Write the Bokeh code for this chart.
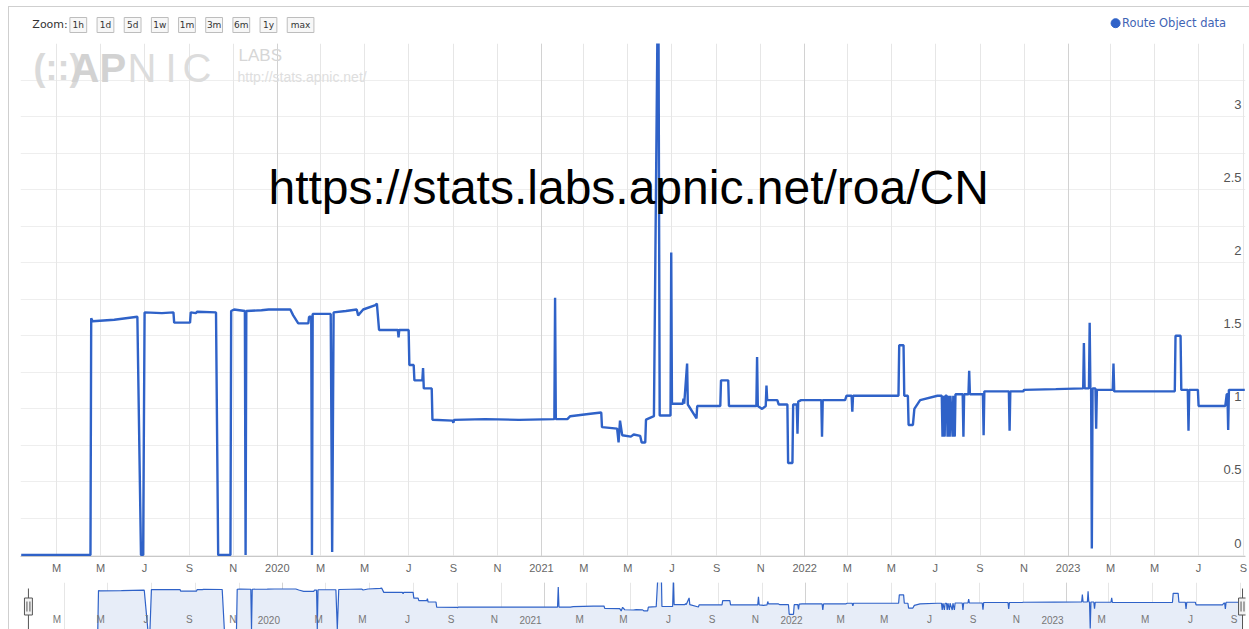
import pandas as pd
from bokeh.plotting import figure
from bokeh.models import Range1d, FixedTicker, Grid, ColumnDataSource
from bokeh.layouts import column
from bokeh.core.properties import value
from bokeh.embed import file_html
from bokeh.resources import INLINE

# ---------------- data ----------------
dates = [
    "2019-01-11", "2019-04-17", "2019-04-18", "2019-04-20", "2019-05-20", "2019-06-21",
    "2019-06-26", "2019-06-29", "2019-07-01", "2019-07-25", "2019-08-10", "2019-08-11",
    "2019-09-02", "2019-09-03", "2019-09-10", "2019-09-12", "2019-10-08", "2019-10-11",
    "2019-10-28", "2019-10-29", "2019-11-02", "2019-11-17", "2019-11-18", "2019-11-19",
    "2019-12-10", "2019-12-20", "2020-01-19", "2020-01-23", "2020-01-30", "2020-02-13",
    "2020-02-14", "2020-02-17", "2020-02-18", "2020-02-19", "2020-03-15", "2020-03-17",
    "2020-03-19", "2020-04-05", "2020-04-20", "2020-04-22", "2020-04-29", "2020-05-16",
    "2020-05-18", "2020-05-21", "2020-06-16", "2020-06-17", "2020-06-18", "2020-07-01",
    "2020-07-02", "2020-07-08", "2020-07-09", "2020-07-20", "2020-07-21", "2020-07-22",
    "2020-08-02", "2020-08-03", "2020-08-31", "2020-09-01", "2020-09-02", "2020-10-15",
    "2020-12-01", "2021-01-19", "2021-01-20", "2021-01-21", "2021-02-06", "2021-02-10",
    "2021-03-10", "2021-03-25", "2021-03-26", "2021-04-16", "2021-04-18", "2021-04-20",
    "2021-04-23", "2021-05-05", "2021-05-09", "2021-05-18", "2021-05-20", "2021-05-25",
    "2021-05-26", "2021-06-06", "2021-06-12", "2021-06-14", "2021-06-29", "2021-06-30",
    "2021-07-01", "2021-07-16", "2021-07-17", "2021-07-18", "2021-07-22", "2021-07-23",
    "2021-08-04", "2021-08-05", "2021-09-06", "2021-09-07", "2021-09-17", "2021-09-18",
    "2021-10-26", "2021-10-27", "2021-10-28", "2021-11-03", "2021-11-08", "2021-11-09",
    "2021-11-10", "2021-11-24", "2021-11-26", "2021-12-08", "2021-12-09", "2021-12-15",
    "2021-12-16", "2021-12-21", "2021-12-22", "2021-12-23", "2021-12-27", "2022-01-24",
    "2022-01-25", "2022-01-26", "2022-02-26", "2022-02-28", "2022-03-07", "2022-03-08",
    "2022-03-09", "2022-05-11", "2022-05-12", "2022-05-18", "2022-05-19", "2022-05-24",
    "2022-05-25", "2022-05-31", "2022-06-02", "2022-06-10", "2022-07-04", "2022-07-10",
    "2022-07-11", "2022-07-12", "2022-07-14", "2022-07-15", "2022-07-17", "2022-07-18",
    "2022-07-19", "2022-07-21", "2022-07-22", "2022-07-25", "2022-07-26", "2022-07-28",
    "2022-07-29", "2022-08-08", "2022-08-09", "2022-08-10", "2022-08-16", "2022-08-17",
    "2022-08-18", "2022-09-05", "2022-09-06", "2022-09-07", "2022-10-11", "2022-10-12",
    "2022-10-13", "2022-10-31", "2022-11-01", "2022-12-15", "2023-01-22", "2023-01-23",
    "2023-01-24", "2023-01-30", "2023-01-31", "2023-02-01", "2023-02-02", "2023-02-03",
    "2023-02-04", "2023-02-08", "2023-02-09", "2023-02-10", "2023-03-04", "2023-03-05",
    "2023-03-06", "2023-05-29", "2023-05-30", "2023-06-06", "2023-06-07", "2023-06-16",
    "2023-06-17", "2023-06-18", "2023-06-30", "2023-07-01", "2023-08-07", "2023-08-09",
    "2023-08-10", "2023-08-11", "2023-08-12", "2023-09-03",
]
values = [
    0.0, 0.0, 1.62, 1.60, 1.61, 1.63,
    0.0, 0.0, 1.66, 1.655, 1.66, 1.59,
    1.59, 1.66, 1.655, 1.665, 1.66, 0.0,
    0.0, 1.67, 1.68, 1.67, 0.0, 1.67,
    1.675, 1.68, 1.68, 1.64, 1.585, 1.585,
    1.63, 1.63, 0.0, 1.65, 1.65, 0.02,
    1.66, 1.67, 1.68, 1.64, 1.68, 1.71,
    1.72, 1.54, 1.54, 1.49, 1.54, 1.54,
    1.30, 1.30, 1.195, 1.195, 1.28, 1.14,
    1.14, 0.926, 0.92, 0.905, 0.925, 0.93,
    0.925, 0.93, 1.76, 0.93, 0.93, 0.95,
    0.967, 0.975, 0.875, 0.865, 0.77, 0.92,
    0.82, 0.81, 0.825, 0.815, 0.77, 0.77,
    0.926, 0.95, 4.2, 0.955, 0.955, 2.07,
    1.035, 1.035, 1.07, 1.035, 1.31, 1.03,
    0.935, 1.02, 1.02, 1.195, 1.195, 1.02,
    1.02, 1.355, 1.02, 1.00, 1.02, 1.16,
    1.06, 1.06, 1.03, 1.03, 0.63, 0.63,
    1.03, 1.03, 0.83, 1.05, 1.06, 1.06,
    0.81, 1.06, 1.06, 1.09, 1.09, 0.98,
    1.09, 1.09, 1.435, 1.435, 1.09, 1.09,
    0.89, 0.89, 1.00, 1.06, 1.09, 1.09,
    0.81, 1.09, 0.81, 1.09, 1.09, 0.81,
    1.09, 0.81, 1.09, 0.81, 1.09, 0.81,
    1.10, 1.10, 0.81, 1.10, 1.10, 1.26,
    1.10, 1.10, 0.82, 1.12, 1.12, 0.85,
    1.12, 1.12, 1.13, 1.135, 1.14, 1.45,
    1.14, 1.14, 1.59, 1.14, 1.14, 0.045,
    1.14, 1.14, 0.865, 1.13, 1.13, 1.31,
    1.12, 1.12, 1.50, 1.50, 1.13, 1.13,
    0.85, 1.13, 1.13, 1.02, 1.02, 1.10,
    1.10, 0.855, 1.13, 1.13,
]

series_name = "Route Object data"
url_text = "https://stats.labs.apnic.net/roa/CN"

xtick_dates = [
    "2019-03-01", "2019-05-01", "2019-07-01", "2019-09-01", "2019-11-01",
    "2020-01-01", "2020-03-01", "2020-05-01", "2020-07-01", "2020-09-01", "2020-11-01",
    "2021-01-01", "2021-03-01", "2021-05-01", "2021-07-01", "2021-09-01", "2021-11-01",
    "2022-01-01", "2022-03-01", "2022-05-01", "2022-07-01", "2022-09-01", "2022-11-01",
    "2023-01-01", "2023-03-01", "2023-05-01", "2023-07-01", "2023-09-01",
]
xtick_labels = [
    "M", "M", "J", "S", "N",
    "2020", "M", "M", "J", "S", "N",
    "2021", "M", "M", "J", "S", "N",
    "2022", "M", "M", "J", "S", "N",
    "2023", "M", "M", "J", "S",
]
year_dates = ["2020-01-01", "2021-01-01", "2022-01-01", "2023-01-01"]
ytick_values = [0, 0.5, 1, 1.5, 2, 2.5, 3]
ytick_labels = ["0", "0.5", "1", "1.5", "2", "2.5", "3"]
ygrid_values = [0, 0.25, 0.5, 0.75, 1, 1.25, 1.5, 1.75, 2, 2.25, 2.5, 2.75, 3, 3.25, 3.5]
zoom_buttons = ["1h", "1d", "5d", "1w", "1m", "3m", "6m", "1y", "max"]
x_start, x_end = "2019-01-10", "2023-09-04"
y_top = 3.5
nav_top = 1.95

# ---------------- styling / layout constants ----------------
BLUE = "#2f62c8"
OFF_X, OFF_Y = 9, 7            # outer frame margin + border
W = 1249 - OFF_X
HEAD_H, MAIN_H, NAV_H = 36, 535, 51
LEFT, RIGHT = 11, 4
MAIN_BOTTOM = 22
FW = W - LEFT - RIGHT
FH = MAIN_H - MAIN_BOTTOM
ARIAL = value("Liberation Sans")
DEJAVU = value("DejaVu Sans")


def ms(d):
    return float(pd.Timestamp(d).value // 10**6)


xt_ms = [ms(d) for d in xtick_dates]
year_ms = [ms(d) for d in year_dates]
src = ColumnDataSource(dict(date=pd.to_datetime(dates), val=values))

# ---------------- header (zoom buttons + legend) ----------------
head = figure(width=W, height=HEAD_H, x_range=Range1d(0, W), y_range=Range1d(HEAD_H, 0),
              x_axis_location=None, y_axis_location=None, min_border=0,
              outline_line_color=None, toolbar_location=None, output_backend="svg")
head.grid.visible = False
head.text(x=[12], y=[17], text=["Zoom:"], text_font=DEJAVU, text_font_size="11px",
          text_color="#333333", text_baseline="middle", text_align="left")
bx = 50.0
lefts, rights = [], []
for b in zoom_buttons:
    w = 27 if len(b) == 3 else 17
    lefts.append(bx)
    rights.append(bx + w)
    bx += w + 10.5
centers = [(l + r) / 2 for l, r in zip(lefts, rights)]
head.quad(left=lefts, right=rights, top=[10] * len(lefts), bottom=[25] * len(lefts),
          fill_color="#f7f7f7", line_color="#bdbdbd", line_width=1)
head.text(x=centers, y=[17.5] * len(centers), text=zoom_buttons, text_font=DEJAVU,
          text_font_size="9px", text_color="#333333", text_align="center", text_baseline="middle")
head.scatter(x=[1108.5], y=[15.7], size=9, marker="circle", fill_color=BLUE, line_color=BLUE)
head.text(x=[1115], y=[15.7], text=[series_name], text_font=DEJAVU, text_font_size="11.5px",
          text_color="#3f64b5", text_align="left", text_baseline="middle")

# ---------------- main chart ----------------
main = figure(width=W, height=MAIN_H, x_axis_type="datetime",
              x_range=Range1d(pd.Timestamp(x_start), pd.Timestamp(x_end)),
              y_range=Range1d(-0.01, y_top), y_axis_location=None,
              toolbar_location=None, output_backend="svg",
              min_border_left=LEFT, min_border_right=RIGHT, min_border_top=0,
              min_border_bottom=MAIN_BOTTOM, outline_line_color=None)
main.grid.visible = False
main.extra_x_ranges = {"px": Range1d(0, FW)}
main.extra_y_ranges = {"px": Range1d(FH, 0)}

main.add_layout(Grid(dimension=1, ticker=FixedTicker(ticks=ygrid_values), grid_line_color="#eeeeee"))
main.add_layout(Grid(dimension=0, ticker=FixedTicker(ticks=xt_ms), grid_line_color="#e6e6e6"))
main.add_layout(Grid(dimension=0, ticker=FixedTicker(ticks=year_ms), grid_line_color="#d2d2d2"))

ax = main.xaxis[0]
ax.ticker = FixedTicker(ticks=xt_ms)
ax.major_label_overrides = {t: l for t, l in zip(xt_ms, xtick_labels)}
ax.major_tick_line_color = None
ax.minor_tick_line_color = None
ax.major_tick_out = 0
ax.major_tick_in = 0
ax.minor_tick_out = 0
ax.axis_line_color = "#c8c8c8"
ax.major_label_text_font = "Liberation Sans"
ax.major_label_text_font_size = "11px"
ax.major_label_text_color = "#666666"
ax.major_label_standoff = 5

# watermark logo (kept inside the plot frame)
wm = dict(x_range_name="px", y_range_name="px", text_baseline="middle", text_align="left")
main.text(x=[13], y=[24], text=["(::)"], text_font=ARIAL, text_font_size="36px",
          text_font_style="bold", text_color="#dadada", **wm)
main.text(x=[50, 79], y=[24, 24], text=["A", "P"], text_font=ARIAL, text_font_size="40px",
          text_font_style="bold", text_color="#d2d2d2", **wm)
main.text(x=[107, 145, 162], y=[24, 24, 24], text=["N", "I", "C"], text_font=ARIAL,
          text_font_size="40px", text_color="#dcdcdc", **wm)
main.text(x=[218], y=[12], text=["LABS"], text_font=ARIAL, text_font_size="17px",
          text_color="#d6d6d6", **wm)
main.text(x=[217], y=[33], text=["http://stats.apnic.net/"], text_font=ARIAL,
          text_font_size="14px", text_color="#dedede", **wm)

# data line
main.line(x="date", y="val", source=src, line_width=2.4, line_color=BLUE)

# y labels (inside, on the right)
main.text(x=[FW - 4] * len(ytick_values), y=ytick_values, text=ytick_labels, x_range_name="px",
          text_font=ARIAL, text_font_size="13px", text_color="#555555",
          text_align="right", text_baseline="middle", y_offset=-12)

# overlaid URL
main.text(x=[248], y=[144], text=[url_text], x_range_name="px", y_range_name="px",
          text_font=ARIAL, text_font_size="48px", text_color="#000000",
          text_align="left", text_baseline="middle")

# ---------------- navigator ----------------
NAV_LEFT = 3
NAV_TOP = 4
span = pd.Timestamp(x_end) - pd.Timestamp(x_start)
nav_start = pd.Timestamp(x_start) - span * ((LEFT - NAV_LEFT) / FW)
nav_end = pd.Timestamp(x_end) + span * ((RIGHT - 1) / FW)
NFW = W - NAV_LEFT - 1
NFH = NAV_H - NAV_TOP
nav = figure(width=W, height=NAV_H, x_axis_type="datetime",
             x_range=Range1d(nav_start, nav_end), y_range=Range1d(0, nav_top),
             x_axis_location=None, y_axis_location=None, toolbar_location=None,
             output_backend="svg", min_border_left=NAV_LEFT, min_border_right=1,
             min_border_top=NAV_TOP, min_border_bottom=0, outline_line_color=None)
nav.grid.visible = False
nav.extra_x_ranges = {"px": Range1d(0, NFW)}
nav.extra_y_ranges = {"px": Range1d(NFH, 0)}
nav.add_layout(Grid(dimension=0, ticker=FixedTicker(ticks=xt_ms), grid_line_color="#e6e6e6"))
nav.add_layout(Grid(dimension=0, ticker=FixedTicker(ticks=year_ms), grid_line_color="#d2d2d2"))
nav.varea(x="date", y1=0, y2="val", source=src, fill_color="#e7edf8")
nav.line(x="date", y="val", source=src, line_width=1.2, line_color=BLUE)
nav.text(x=pd.to_datetime(xtick_dates), y=[0] * len(xtick_dates), text=xtick_labels,
         text_font=ARIAL, text_font_size="10px", text_color="#777777",
         text_align="right", text_baseline="middle", x_offset=-3, y_offset=-10)
hx = [LEFT - NAV_LEFT, NFW - (RIGHT - 1)]
nav.segment(x0=hx, y0=[6, 6], x1=hx, y1=[NFH, NFH], x_range_name="px", y_range_name="px",
            line_color="#555555", line_width=1)
nav.rect(x=hx, y=[24, 24], width=8, height=17, x_range_name="px", y_range_name="px",
         fill_color="#f2f2f2", line_color="#555555", line_width=1)
nav.segment(x0=[hx[0] - 1.5, hx[0] + 1.5, hx[1] - 1.5, hx[1] + 1.5], y0=[19] * 4,
            x1=[hx[0] - 1.5, hx[0] + 1.5, hx[1] - 1.5, hx[1] + 1.5], y1=[29] * 4,
            x_range_name="px", y_range_name="px", line_color="#555555", line_width=1)

layout = column(head, main, nav, spacing=0,
                styles={"border-top": "1px solid #cfcfcf", "border-left": "1px solid #cfcfcf",
                        "margin-left": "8px", "margin-top": "6px"})
open("out.html", "w").write(file_html(layout, INLINE))
